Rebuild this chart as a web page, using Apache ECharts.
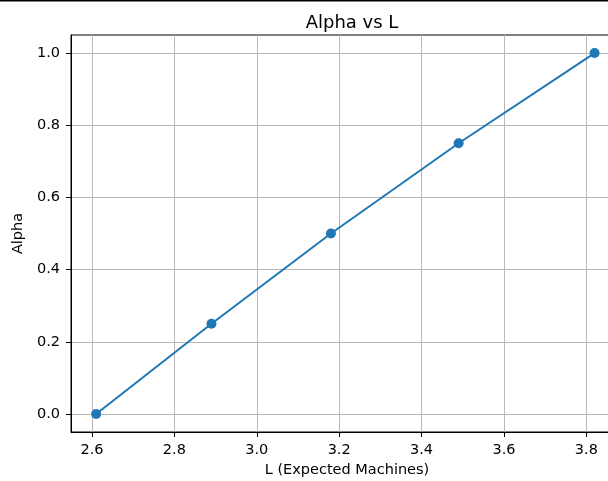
<!DOCTYPE html>
<html>
<head>
<meta charset="utf-8">
<script src="https://cdn.jsdelivr.net/npm/echarts@6/dist/echarts.min.js"></script>
<style>html,body{margin:0;padding:0;background:#fff;}#c{width:608px;height:481px;}</style>
</head>
<body>
<div id="c"></div>
<script>
const titleText = "Alpha vs L";
const xName = "L (Expected Machines)";
const yName = "Alpha";
const lValues = [2.61, 2.89, 3.18, 3.49, 3.82];
const alphaValues = [0, 0.25, 0.5, 0.75, 1.0];
const xTicks = [2.6, 2.8, 3.0, 3.2, 3.4, 3.6, 3.8];
const yTicks = [0.0, 0.2, 0.4, 0.6, 0.8, 1.0];

const font = "DejaVu Sans";
const chart = echarts.init(document.getElementById('c'), null, {renderer: 'canvas'});
const pts = lValues.map((v, i) => [v, alphaValues[i]]);
chart.setOption({
  animation: false,
  backgroundColor: '#fff',
  title: {
    text: titleText, left: 347, top: 9, textAlign: 'center',
    textStyle: {fontFamily: font, fontSize: 18, fontWeight: 'normal', color: '#000'}
  },
  graphic: [{type: 'rect', shape: {x: 0, y: 0, width: 608, height: 1.5}, style: {fill: '#000'}, silent: true}],
  grid: {left: 71, top: 35, width: 552, height: 397, show: true, borderColor: '#000', borderWidth: 1, containLabel: false, outerBoundsMode: 'none'},
  xAxis: {
    type: 'value', min: 2.549, max: 3.889,
    name: xName, nameLocation: 'middle', nameGap: 30,
    nameTextStyle: {fontFamily: font, fontSize: 14.5, color: '#000'},
    axisLine: {show: true, onZero: false, lineStyle: {color: '#000', width: 1}},
    axisTick: {show: true, inside: false, length: 5, customValues: xTicks, lineStyle: {color: '#000'}},
    axisLabel: {customValues: xTicks, margin: 11, fontFamily: font, fontSize: 14.5, color: '#000', formatter: v => Number(v).toFixed(1)},
    splitLine: {show: true, lineStyle: {color: '#b8b8b8', width: 1}}
  },
  yAxis: {
    type: 'value', min: -0.05, max: 1.05,
    name: yName, nameLocation: 'middle', nameGap: 42, nameRotate: 90,
    nameTextStyle: {fontFamily: font, fontSize: 14.5, color: '#000'},
    axisLine: {show: true, onZero: false, lineStyle: {color: '#000', width: 1}},
    axisTick: {show: true, inside: false, length: 5, customValues: yTicks, lineStyle: {color: '#000'}},
    axisLabel: {customValues: yTicks, margin: 11, fontFamily: font, fontSize: 14.5, color: '#000', formatter: v => Number(v).toFixed(1)},
    splitLine: {show: true, lineStyle: {color: '#b8b8b8', width: 1}}
  },
  series: [{
    type: 'line', data: pts, symbol: 'circle', symbolSize: 10,
    lineStyle: {color: '#1f77b4', width: 2}, itemStyle: {color: '#1f77b4'}, clip: false
  }]
});
</script>
</body>
</html>
